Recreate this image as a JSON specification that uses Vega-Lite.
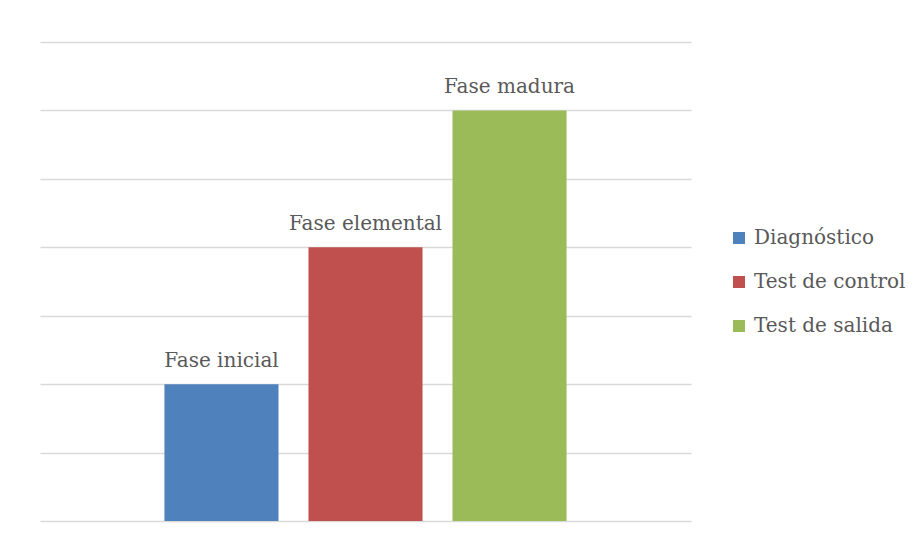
{
  "$schema": "https://vega.github.io/schema/vega-lite/v6.json",
  "width": 651,
  "height": 479,
  "autosize": {"type": "none"},
  "padding": {"left": 40, "top": 42, "right": 225, "bottom": 21},
  "background": "white",
  "config": {
    "view": {"stroke": null},
    "font": "DejaVu Serif"
  },
  "data": {
    "values": [
      {"serie": "Diagnóstico", "valor": 2, "etiqueta": "Fase inicial"},
      {"serie": "Test de control", "valor": 4, "etiqueta": "Fase elemental"},
      {"serie": "Test de salida", "valor": 6, "etiqueta": "Fase madura"}
    ]
  },
  "encoding": {
    "x": {
      "field": "serie",
      "type": "nominal",
      "sort": null,
      "scale": {"paddingInner": 0.208, "paddingOuter": 0.864},
      "axis": null
    },
    "y": {
      "field": "valor",
      "type": "quantitative",
      "scale": {"domain": [0, 7], "nice": false},
      "axis": {
        "values": [0, 1, 2, 3, 4, 5, 6, 7],
        "labels": false,
        "ticks": false,
        "domain": false,
        "title": null,
        "grid": true,
        "gridColor": "#d9d9d9",
        "gridWidth": 1.4
      }
    }
  },
  "layer": [
    {
      "mark": {"type": "bar"},
      "encoding": {
        "color": {
          "field": "serie",
          "type": "nominal",
          "sort": null,
          "scale": {
            "domain": ["Diagnóstico", "Test de control", "Test de salida"],
            "range": ["#4F81BD", "#C0504D", "#9BBB59"]
          },
          "legend": {
            "title": null,
            "orient": "none",
            "legendX": 689,
            "legendY": 186,
            "symbolType": "square",
            "symbolSize": 144,
            "symbolStrokeWidth": 0,
            "labelFont": "DejaVu Serif",
            "labelFontSize": 20,
            "labelColor": "#595959",
            "labelOffset": 5,
            "rowPadding": 24,
            "labelLimit": 300
          }
        }
      }
    },
    {
      "mark": {
        "type": "text",
        "baseline": "alphabetic",
        "dy": -17,
        "font": "DejaVu Serif",
        "fontSize": 20,
        "color": "#595959"
      },
      "encoding": {"text": {"field": "etiqueta"}}
    }
  ]
}
